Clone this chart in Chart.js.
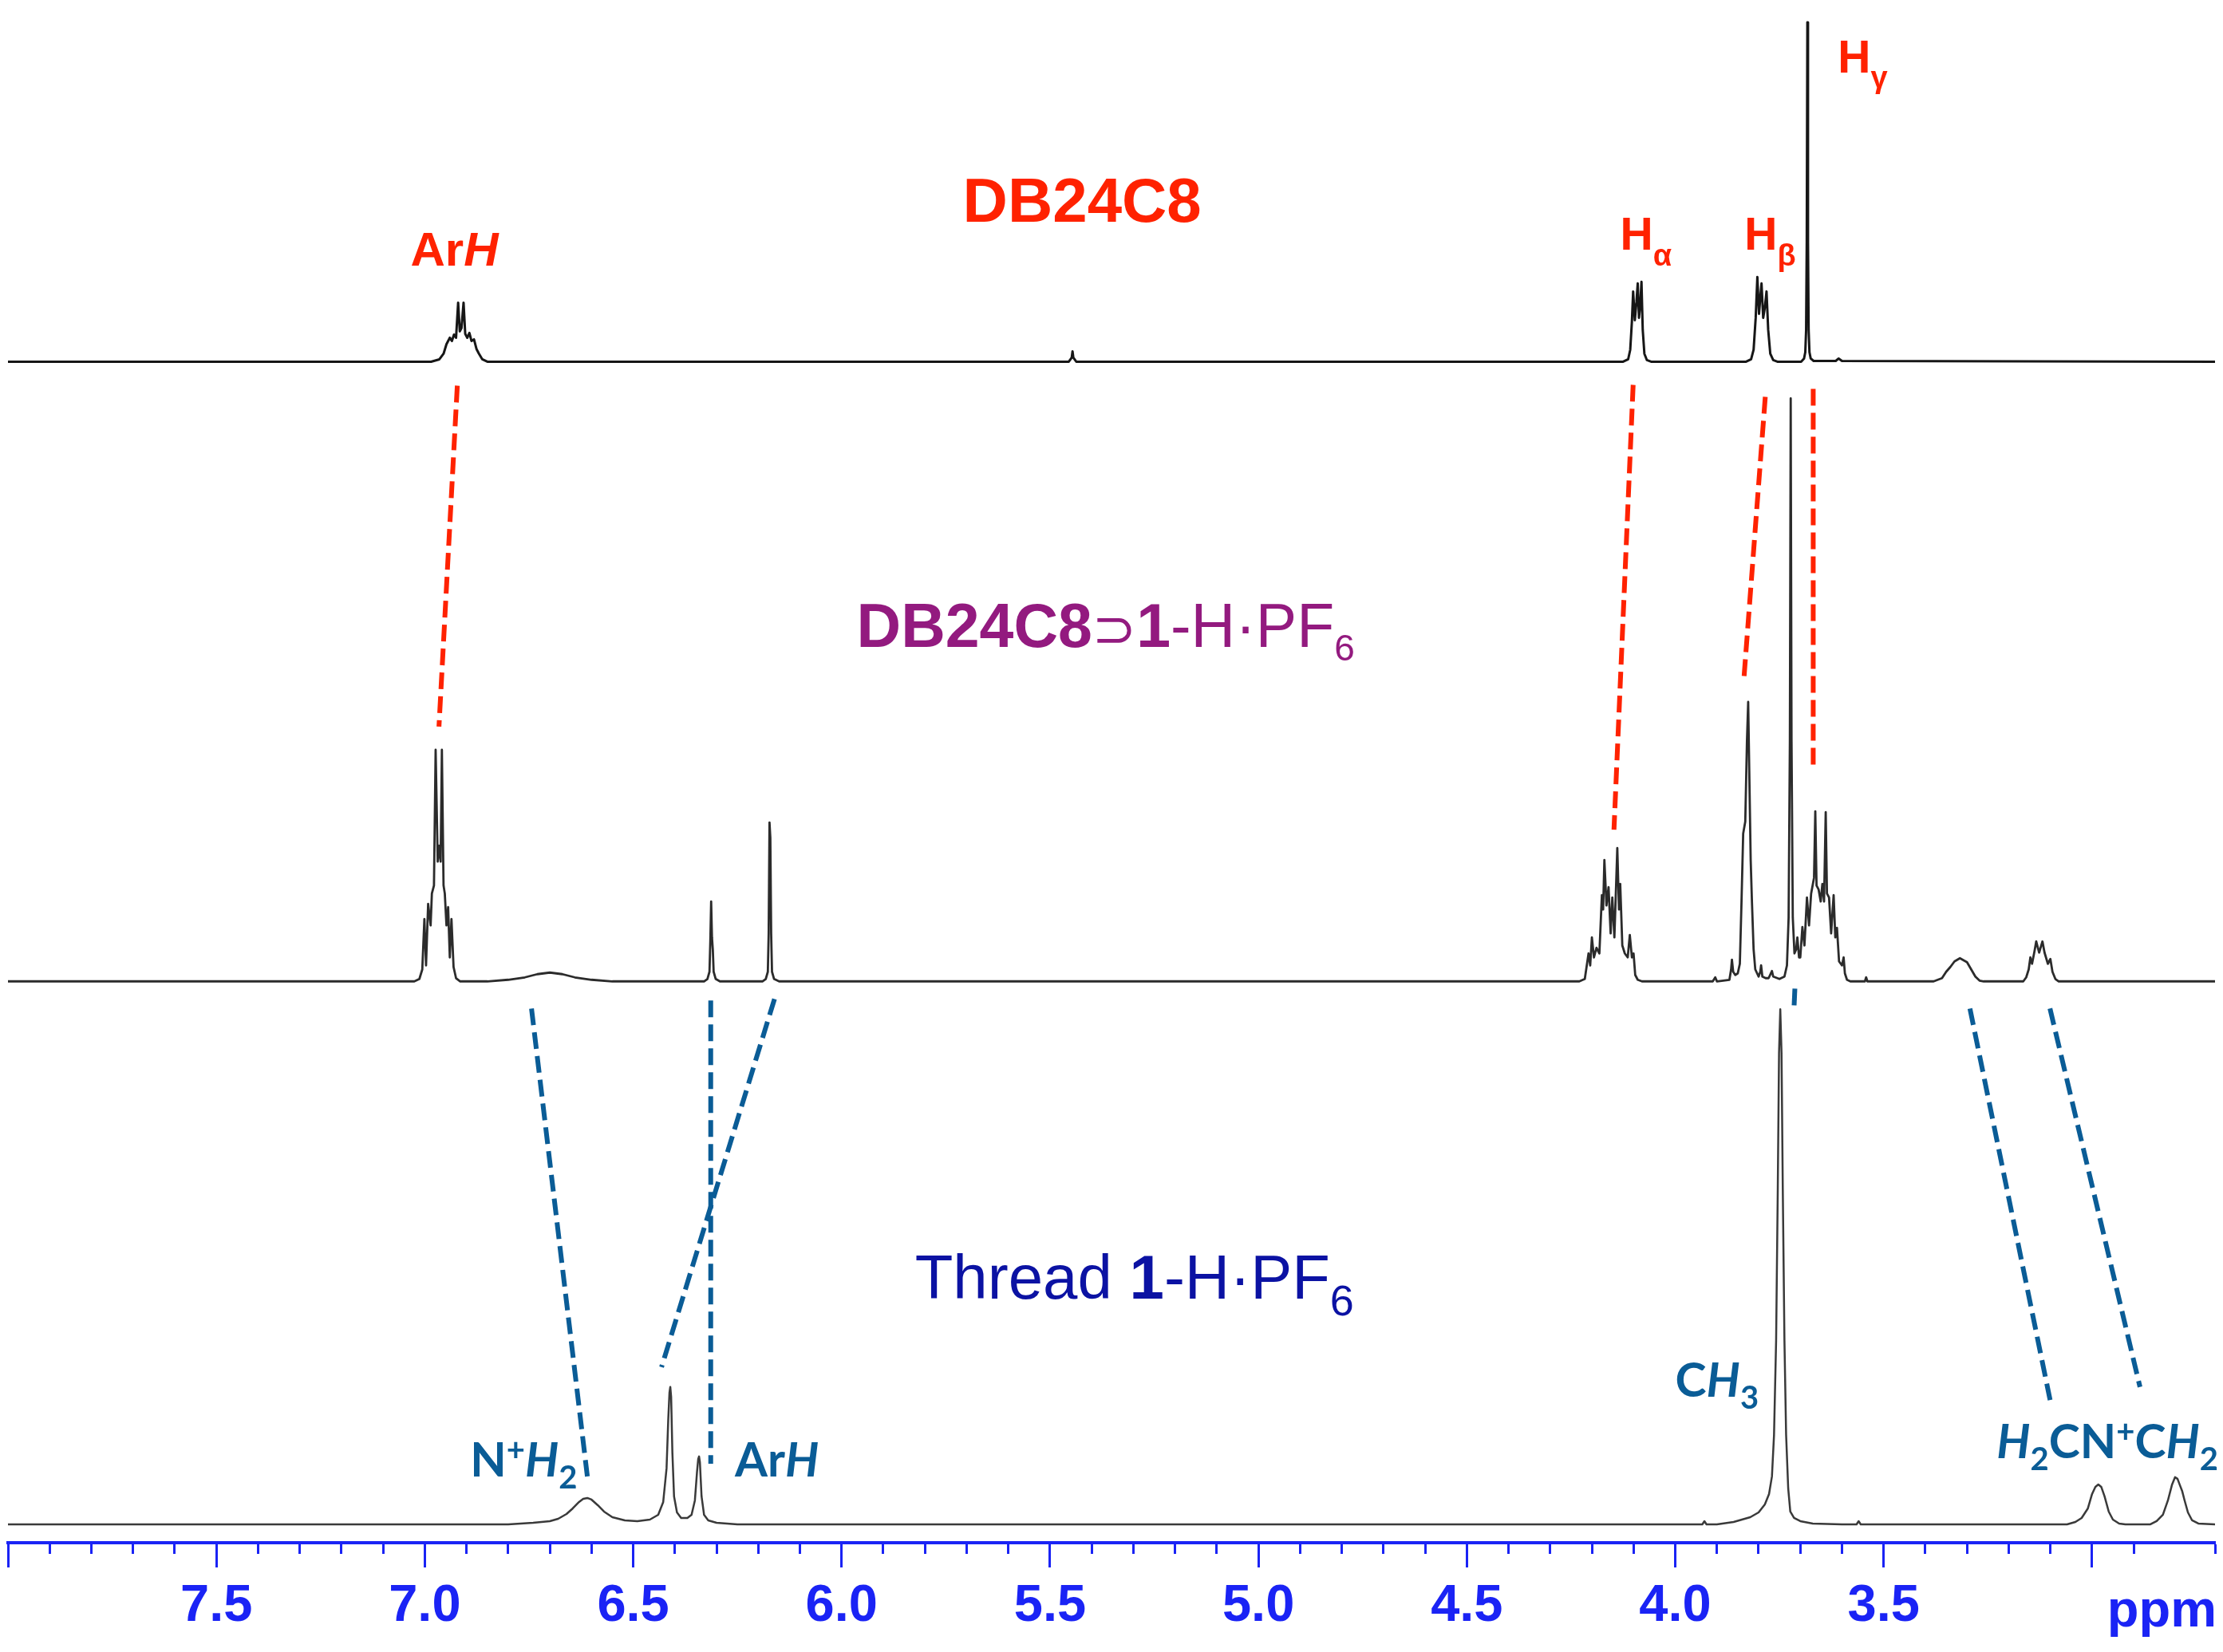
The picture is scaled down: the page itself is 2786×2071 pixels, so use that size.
<!DOCTYPE html>
<html>
<head>
<meta charset="utf-8">
<title>1H NMR stack: DB24C8, DB24C8⊃1-H·PF6, thread 1-H·PF6</title>
<script src="https://cdn.jsdelivr.net/npm/chart.js@4.4.1/dist/chart.umd.min.js"></script>
<style>
    html, body { margin: 0; padding: 0; background: #fff; }
    canvas { display: block; }
</style>
</head>
<body>
<canvas id="nmr" width="2786" height="2071"></canvas>
<script>
    // Spectra: [shift in ppm, intensity above the trace's own baseline]
    var db24c8 = [
        [8.0, 0],
        [6.985, 0], [6.965, 3], [6.955, 10], [6.948, 22], [6.940, 30], [6.935, 26], [6.930, 34], [6.925, 30],
        [6.920, 74], [6.916, 38], [6.912, 42], [6.907, 74], [6.903, 35], [6.898, 30], [6.893, 36], [6.888, 26],
        [6.882, 28], [6.876, 16], [6.870, 10], [6.862, 3], [6.850, 0],
        [5.455, 0], [5.448, 5], [5.446, 13], [5.444, 5], [5.437, 0],
        [4.125, 0], [4.113, 3], [4.108, 15], [4.104, 50], [4.101, 88], [4.097, 52], [4.093, 75], [4.090, 98],
        [4.087, 55], [4.084, 70], [4.081, 100], [4.078, 40], [4.074, 10], [4.068, 2], [4.058, 0],
        [3.830, 0], [3.818, 3], [3.812, 15], [3.807, 55], [3.803, 106], [3.799, 60], [3.796, 80], [3.793, 98],
        [3.789, 55], [3.785, 68], [3.781, 88], [3.777, 40], [3.772, 10], [3.765, 2], [3.755, 0],
        [3.698, 0], [3.691, 4], [3.688, 12], [3.686, 40], [3.6845, 150], [3.683, 425], [3.6815, 150],
        [3.680, 40], [3.678, 12], [3.675, 4], [3.668, 1], [3.615, 1], [3.608, 4], [3.600, 1],
        [2.705, 0]
    ];
    var complex = [
        [8.0, 0],
        [7.025, 0], [7.013, 3], [7.006, 15], [7.001, 78], [6.997, 20], [6.992, 97], [6.986, 70], [6.983, 110],
        [6.978, 120], [6.974, 290], [6.969, 150], [6.966, 170], [6.962, 150], [6.959, 290], [6.955, 120],
        [6.952, 110], [6.948, 70], [6.944, 93], [6.940, 30], [6.936, 78], [6.931, 18], [6.925, 4], [6.915, 0],
        [6.85, 0], [6.80, 2], [6.76, 5], [6.73, 9], [6.70, 11], [6.67, 9], [6.64, 5], [6.60, 2], [6.55, 0],
        [6.330, 0], [6.322, 3], [6.317, 12], [6.315, 50], [6.313, 100], [6.311, 55], [6.309, 40], [6.307, 12],
        [6.302, 3], [6.292, 0],
        [6.190, 0], [6.182, 3], [6.177, 12], [6.175, 60], [6.173, 199], [6.171, 180], [6.169, 60], [6.167, 12],
        [6.162, 3], [6.150, 0],
        [4.230, 0], [4.217, 3], [4.208, 35], [4.204, 20], [4.200, 55], [4.195, 30], [4.189, 42], [4.182, 35],
        [4.176, 108], [4.173, 90], [4.170, 152], [4.165, 95], [4.160, 118], [4.155, 60], [4.151, 105],
        [4.146, 55], [4.139, 167], [4.135, 90], [4.132, 122], [4.127, 45], [4.121, 35], [4.114, 30],
        [4.109, 58], [4.104, 30], [4.100, 35], [4.096, 8], [4.090, 2], [4.080, 0],
        [3.910, 0], [3.904, 5], [3.900, 0],
        [3.870, 2], [3.866, 15], [3.864, 27], [3.861, 12], [3.856, 8], [3.850, 10], [3.845, 22], [3.841, 100],
        [3.837, 185], [3.832, 200], [3.828, 300], [3.825, 350], [3.822, 250], [3.819, 152], [3.816, 100],
        [3.812, 40], [3.808, 15], [3.800, 6], [3.796, 12], [3.794, 20], [3.791, 6], [3.783, 4], [3.776, 4],
        [3.768, 13], [3.765, 6], [3.750, 3], [3.738, 6], [3.732, 20], [3.728, 80], [3.725, 300], [3.723, 730],
        [3.721, 300], [3.718, 80], [3.714, 35], [3.710, 40], [3.707, 55], [3.703, 30], [3.700, 30],
        [3.695, 68], [3.690, 45], [3.684, 105], [3.679, 70], [3.674, 110], [3.667, 130], [3.664, 213],
        [3.661, 120], [3.656, 115], [3.651, 100], [3.647, 122], [3.643, 100], [3.639, 212], [3.636, 110],
        [3.631, 105], [3.626, 60], [3.620, 108], [3.616, 55], [3.612, 67], [3.607, 25], [3.600, 20],
        [3.596, 30], [3.593, 10], [3.588, 2], [3.580, 0],
        [3.545, 0], [3.542, 5], [3.539, 0],
        [3.38, 0], [3.36, 4], [3.35, 12], [3.34, 18], [3.33, 25], [3.317, 29], [3.30, 24], [3.29, 15],
        [3.28, 6], [3.27, 1], [3.26, 0],
        [3.165, 0], [3.158, 5], [3.152, 15], [3.148, 30], [3.144, 22], [3.138, 38], [3.134, 50], [3.127, 36],
        [3.119, 50], [3.114, 36], [3.106, 22], [3.100, 28], [3.095, 12], [3.088, 3], [3.080, 0],
        [2.705, 0]
    ];
    var thread = [
        [8.0, 0],
        [6.80, 0], [6.74, 2], [6.70, 4], [6.68, 7], [6.66, 13], [6.645, 20], [6.63, 28], [6.62, 32], [6.610, 33],
        [6.60, 31], [6.585, 24], [6.57, 16], [6.55, 9], [6.52, 5], [6.49, 4], [6.46, 6], [6.44, 12],
        [6.428, 28], [6.420, 70], [6.416, 130], [6.413, 165], [6.411, 172], [6.409, 160], [6.406, 90],
        [6.402, 35], [6.395, 15], [6.385, 8], [6.37, 8], [6.36, 12], [6.352, 30], [6.347, 65], [6.344, 82],
        [6.342, 85], [6.340, 78], [6.336, 35], [6.330, 12], [6.320, 5], [6.30, 2], [6.25, 0],
        [3.935, 0], [3.930, 4], [3.925, 0],
        [3.90, 0], [3.86, 3], [3.82, 9], [3.80, 15], [3.785, 25], [3.775, 38], [3.768, 60], [3.763, 112],
        [3.758, 230], [3.754, 420], [3.751, 590], [3.748, 645], [3.745, 590], [3.742, 420], [3.738, 230],
        [3.734, 112], [3.729, 45], [3.724, 16], [3.715, 8], [3.70, 4], [3.67, 1], [3.60, 0],
        [3.565, 0], [3.560, 4], [3.555, 0],
        [3.06, 0], [3.04, 3], [3.025, 8], [3.010, 20], [3.000, 38], [2.992, 47], [2.985, 50], [2.978, 47],
        [2.970, 35], [2.960, 16], [2.950, 6], [2.935, 1], [2.92, 0],
        [2.86, 0], [2.845, 4], [2.83, 12], [2.818, 30], [2.808, 50], [2.801, 59], [2.795, 57], [2.790, 50],
        [2.784, 42], [2.778, 30], [2.770, 15], [2.760, 5], [2.745, 1], [2.705, 0]
    ];

    // Dashed correlation lines: [[ppm, level], [ppm, level]] on the stacked y scale
    var crownLinks = [
        [[6.922, 1449], [6.966, 1022]],
        [[4.101, 1450], [4.147, 893]],
        [[3.784, 1435], [3.836, 1077]],
        [[3.669, 1445], [3.669, 972]]
    ];
    var threadLinks = [
        [[6.744, 669], [6.610, 83]],
        [[6.314, 679], [6.314, 99]],
        [[6.161, 681], [6.432, 220]],
        [[3.713, 694], [3.715, 670]],
        [[3.293, 669], [3.098, 172]],
        [[3.101, 669], [2.885, 195]]
    ];

    var majorTicks = [3.5, 4.0, 4.5, 5.0, 5.5, 6.0, 6.5, 7.0, 7.5];

    // vertical stacking of the three traces
    var offsets = { db24c8: 1479, complex: 703, thread: 23 };

    var RED = '#ff2200', PURPLE = '#931a7f', NAVY = '#0b12a3', TEAL = '#0a5c96', AXIS = '#1a23f5';
    var ARIAL = "'Liberation Sans', Arial, 'DejaVu Sans', sans-serif";
    var CALIBRI = "Lato, 'Open Sans', sans-serif";

    // Text runs: [text, font, baseline shift]
    var labels = [
        { ppm: 5.423, level: 1654, align: 'center', color: RED, runs: [['DB24C8', 'bold 78px ' + ARIAL, 0]] },
        { ppm: 6.929, level: 1599, align: 'center', color: RED, runs: [
            ['Ar', 'bold 60px ' + ARIAL, 0], ['H', 'italic bold 60px ' + ARIAL, 0]] },
        { ppm: 4.132, level: 1619, align: 'left', color: RED, runs: [
            ['H', 'bold 57px ' + ARIAL, 0], ['\u03b1', 'bold 38px ' + ARIAL, 20]] },
        { ppm: 3.834, level: 1619, align: 'left', color: RED, runs: [
            ['H', 'bold 57px ' + ARIAL, 0], ['\u03b2', 'bold 38px ' + ARIAL, 20]] },
        { ppm: 3.610, level: 1841, align: 'left', color: RED, runs: [
            ['H', 'bold 57px ' + ARIAL, 0], ['\u03b3', 'bold 38px ' + ARIAL, 19]] },
        { ppm: 5.964, level: 1122, align: 'left', color: PURPLE, runs: [
            ['DB24C8', 'bold 77px ' + ARIAL, 0], ['\u2283', '66px ' + ARIAL, 0], ['1', 'bold 77px ' + ARIAL, 0],
            ['-H\u00b7PF', '77px ' + ARIAL, 0], ['6', '46px ' + ARIAL, 17]] },
        { ppm: 5.824, level: 306, align: 'left', color: NAVY, runs: [
            ['Thread ', '78px ' + ARIAL, 0], ['1', 'bold 78px ' + ARIAL, 0],
            ['-H\u00b7PF', '78px ' + ARIAL, 0], ['6', '54px ' + ARIAL, 21]] },
        { ppm: 6.891, level: 83, align: 'left', color: TEAL, runs: [
            ['N', 'bold 59px ' + CALIBRI, 0], ['+', 'bold 40px ' + CALIBRI, -20],
            ['H', 'italic bold 59px ' + CALIBRI, 0], ['2', 'bold 40px ' + CALIBRI, 15]] },
        { ppm: 6.256, level: 83, align: 'left', color: TEAL, runs: [
            ['Ar', 'bold 59px ' + CALIBRI, 0], ['H', 'italic bold 59px ' + CALIBRI, 0]] },
        { ppm: 4.000, level: 183, align: 'left', color: TEAL, runs: [
            ['C', 'bold 59px ' + CALIBRI, 0], ['H', 'italic bold 59px ' + CALIBRI, 0],
            ['3', 'bold 40px ' + CALIBRI, 15]] },
        { ppm: 3.229, level: 106, align: 'left', color: TEAL, runs: [
            ['H', 'italic bold 59px ' + CALIBRI, 0], ['2', 'bold 40px ' + CALIBRI, 15],
            ['CN', 'bold 59px ' + CALIBRI, 0], ['+', 'bold 40px ' + CALIBRI, -20],
            ['C', 'bold 59px ' + CALIBRI, 0], ['H', 'italic bold 59px ' + CALIBRI, 0],
            ['2', 'bold 40px ' + CALIBRI, 15]] }
    ];

    function isMajor(v) {
        return Math.abs(v * 2 - Math.round(v * 2)) < 1e-6;
    }

    function trace(points, offset, color, width) {
        return {
            data: points.map(function (p) { return { x: p[0], y: p[1] + offset }; }),
            borderColor: color,
            borderWidth: width,
            borderJoinStyle: 'round',
            pointRadius: 0,
            tension: 0,
            fill: false
        };
    }

    function link(pair, color) {
        return {
            data: pair.map(function (p) { return { x: p[0], y: p[1] }; }),
            borderColor: color,
            borderWidth: 6,
            borderDash: [21, 9],
            pointRadius: 0,
            fill: false
        };
    }

    // draws the peak assignments and compound names through the chart scales
    var labelPlugin = {
        id: 'peakLabels',
        afterDatasetsDraw: function (chart) {
            var ctx = chart.ctx;
            var xs = chart.scales.x, ys = chart.scales.y;
            ctx.save();
            ctx.textBaseline = 'alphabetic';
            ctx.textAlign = 'left';
            labels.forEach(function (l) {
                var total = 0;
                l.runs.forEach(function (r) {
                    ctx.font = r[1];
                    total += ctx.measureText(r[0]).width;
                });
                var x = xs.getPixelForValue(l.ppm);
                var y = ys.getPixelForValue(l.level);
                if (l.align === 'center') x -= total / 2;
                ctx.fillStyle = l.color;
                l.runs.forEach(function (r) {
                    ctx.font = r[1];
                    ctx.fillText(r[0], x, y + r[2]);
                    x += ctx.measureText(r[0]).width;
                });
            });
            // unit at the right end of the axis
            ctx.font = 'bold 65px ' + ARIAL;
            ctx.fillStyle = AXIS;
            ctx.textAlign = 'right';
            ctx.fillText('ppm', xs.getPixelForValue(xs.min) + 2, xs.top + 105);
            ctx.restore();
        }
    };

    var datasets = [
        trace(db24c8, offsets.db24c8, '#161616', 3),
        trace(complex, offsets.complex, '#2b2b2b', 2.8),
        trace(thread, offsets.thread, '#3a3a3a', 2.5)
    ];
    crownLinks.forEach(function (pair) { datasets.push(link(pair, RED)); });
    threadLinks.forEach(function (pair) { datasets.push(link(pair, TEAL)); });

    new Chart(document.getElementById('nmr'), {
        type: 'line',
        data: { datasets: datasets },
        options: {
            responsive: false,
            animation: false,
            devicePixelRatio: 1,
            events: [],
            layout: { padding: { left: 5, right: 9, top: 0, bottom: 8 } },
            plugins: { legend: { display: false }, tooltip: { enabled: false } },
            scales: {
                x: {
                    type: 'linear',
                    reverse: true,
                    min: 2.705,
                    max: 8.0,
                    grid: {
                        drawOnChartArea: false,
                        tickLength: 31,
                        tickWidth: 3,
                        tickColor: AXIS,
                        // minor ticks are cut short with a dash pattern
                        tickBorderDash: function (ctx) {
                            return isMajor(ctx.tick.value) ? [] : [12, 80];
                        }
                    },
                    border: { display: true, color: AXIS, width: 4 },
                    ticks: {
                        stepSize: 0.1,
                        autoSkip: false,
                        maxRotation: 0,
                        minRotation: 0,
                        padding: 10,
                        color: AXIS,
                        font: { family: ARIAL, weight: 'bold', size: 65 },
                        callback: function (v) {
                            for (var i = 0; i < majorTicks.length; i++) {
                                if (Math.abs(v - majorTicks[i]) < 1e-6) return majorTicks[i].toFixed(1);
                            }
                            return '';
                        }
                    }
                },
                y: { display: false, min: 0, max: 1932 }
            }
        },
        plugins: [labelPlugin]
    });
</script>
</body>
</html>
